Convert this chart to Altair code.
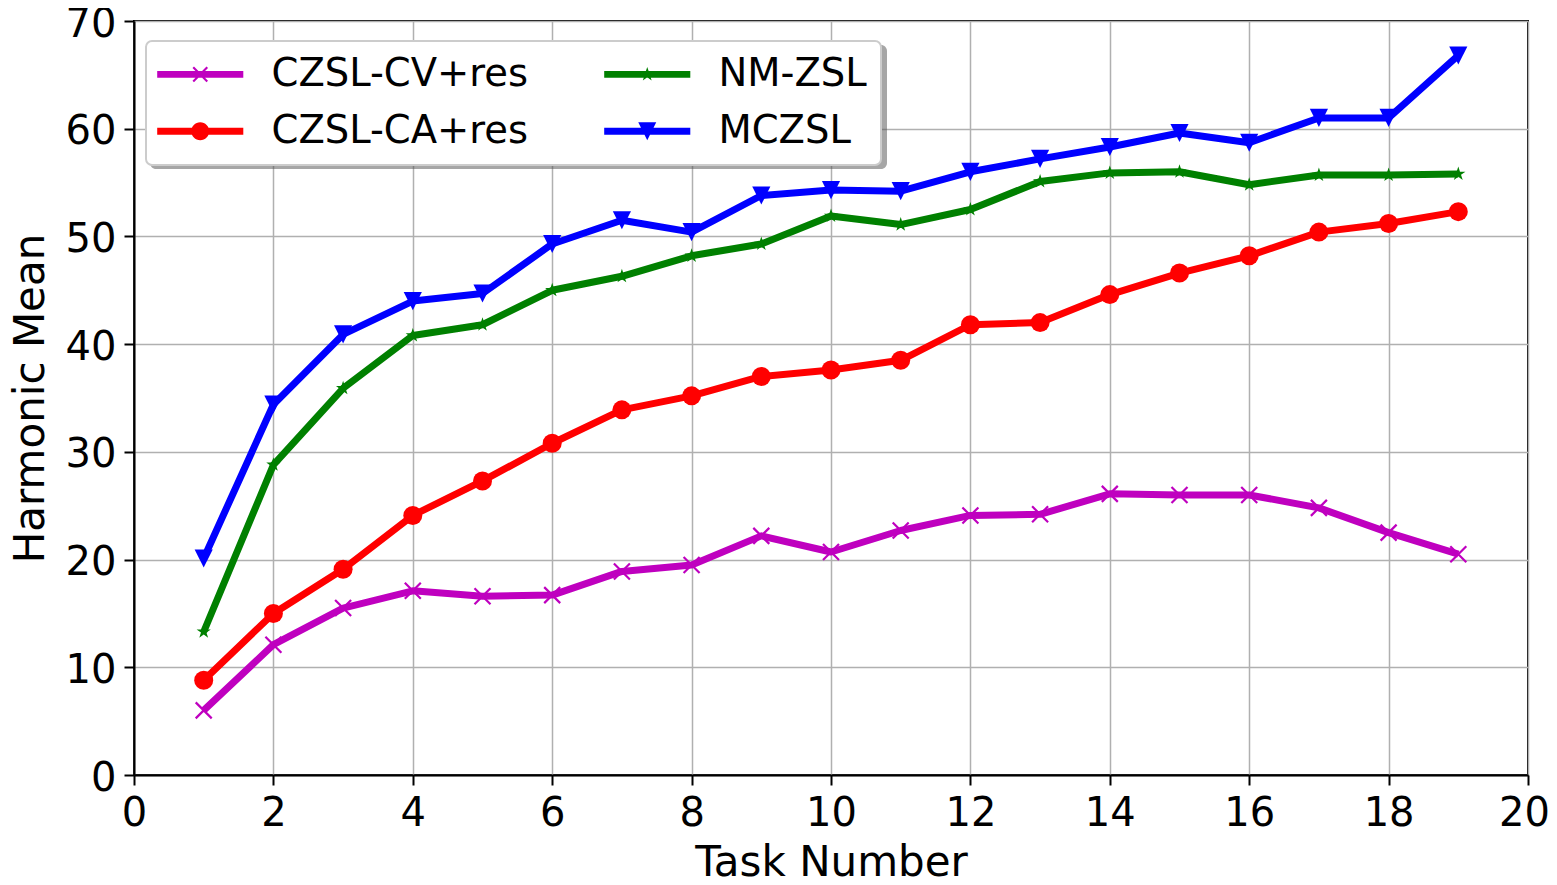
import altair as alt
import pandas as pd

tasks = list(range(1, 20))

cv_res = [6.0, 12.1, 15.5, 17.1, 16.6, 16.7, 18.9, 19.5, 22.2, 20.7,
          22.7, 24.1, 24.2, 26.1, 26.0, 26.0, 24.8, 22.5, 20.5]
ca_res = [8.8, 15.0, 19.1, 24.1, 27.3, 30.8, 33.9, 35.2, 37.0, 37.6,
          38.5, 41.8, 42.0, 44.6, 46.6, 48.2, 50.4, 51.2, 52.3]
nm_zsl = [13.3, 28.8, 35.9, 40.8, 41.8, 45.0, 46.3, 48.2, 49.3, 51.9,
          51.1, 52.5, 55.1, 55.9, 56.0, 54.8, 55.7, 55.7, 55.8]
mczsl = [20.1, 34.4, 40.9, 44.0, 44.7, 49.3, 51.5, 50.4, 53.8, 54.3,
         54.2, 56.0, 57.2, 58.3, 59.6, 58.7, 61.0, 61.0, 66.8]

series_names = ["CZSL-CV+res", "CZSL-CA+res", "NM-ZSL", "MCZSL"]
series_values = [cv_res, ca_res, nm_zsl, mczsl]
series_colors = ["#bf00bf", "#ff0000", "#008000", "#0000ff"]

FONT = "DejaVu Sans"

# marker shapes for the plotted points
X_PATH = "M-1,-1L1,1M-1,1L1,-1"
STAR_PATH = ("M0,-1L-0.225,-0.309L-0.951,-0.309L-0.363,0.118L-0.588,0.809"
             "L0,0.382L0.588,0.809L0.363,0.118L0.951,-0.309L0.225,-0.309Z")
TRI_PATH = "M-1,-1L0,1L1,-1Z"

markers = [
    dict(shape=X_PATH, filled=False, size=256, strokeWidth=2.2),
    dict(shape="circle", filled=True, size=361),
    dict(shape=STAR_PATH, filled=True, size=225),
    dict(shape=TRI_PATH, filled=True, size=330),
]

# legend symbols: line + marker combined
LINE = "M-2.87,-0.233V0.233H2.87V-0.233Z"
leg_x = (LINE + "M0.417,0.517L0.517,0.417L-0.417,-0.517L-0.517,-0.417Z"
         "M0.517,-0.417L0.417,-0.517L-0.517,0.417L-0.417,0.517Z")
leg_circle = LINE + "M0.6,0A0.6,0.6 0 1,0 -0.6,0A0.6,0.6 0 1,0 0.6,0Z"
leg_star = (LINE + "M0,-0.5L-0.112,-0.155L-0.476,-0.155L-0.182,0.059L-0.294,0.405"
            "L0,0.191L0.294,0.405L0.182,0.059L0.476,-0.155L0.112,-0.155Z")
leg_tri = LINE + "M-0.6,-0.6L0,0.6L0.6,-0.6Z"
legend_paths = [leg_x, leg_circle, leg_star, leg_tri]

rows = []
for name, vals in zip(series_names, series_values):
    for t, v in zip(tasks, vals):
        rows.append({"task": t, "hm": v, "series": name, "shadow": name + " "})
df = pd.DataFrame(rows)

x_enc = alt.X("task:Q", scale=alt.Scale(domain=[0, 20], nice=False),
              axis=alt.Axis(values=list(range(0, 21, 2)), title="Task Number",
                            format="d", titlePadding=9,
                            labelOffset={"condition": {"test": "datum.value == 20", "value": -4},
                                         "value": 0}))
y_enc = alt.Y("hm:Q", scale=alt.Scale(domain=[0, 70], nice=False),
              axis=alt.Axis(values=list(range(0, 71, 10)), title="Harmonic Mean",
                            format="d", labelOffset=3, titlePadding=13))

common_legend = dict(title=None, orient="none", columns=2,
                     symbolSize=900, symbolStrokeWidth=0, symbolOpacity=1, symbolOffset=21,
                     labelFontSize=38.5, labelFont=FONT, padding=14, rowPadding=18,
                     cornerRadius=6, labelLimit=0)

# shadow of the legend box (drawn first, below the real legend); no label text
shadow_names = [n + " " for n in series_names]
shadow_legend = alt.Legend(legendX=16, legendY=24, fillColor="rgba(77,77,77,0.5)",
                           strokeColor="transparent", labelColor="transparent",
                           labelExpr="''", labelOffset=224, columnPadding=138,
                           symbolType=leg_circle, **common_legend)
shadow_layer = alt.Chart(df).transform_filter("false").mark_point(filled=True).encode(
    x="task:Q", y="hm:Q",
    color=alt.Color("shadow:N", scale=alt.Scale(domain=shadow_names, range=["transparent"] * 4),
                    legend=shadow_legend),
)

layers = [shadow_layer]
for name, col, mk in zip(series_names, series_colors, markers):
    base = alt.Chart(df).transform_filter(alt.datum.series == name)
    line = base.mark_line(color=col, strokeWidth=7, strokeJoin="round").encode(x=x_enc, y=y_enc)
    if mk["filled"]:
        pt = base.mark_point(shape=mk["shape"], filled=True, color=col, size=mk["size"],
                             opacity=1).encode(x="task:Q", y="hm:Q")
    else:
        pt = base.mark_point(shape=mk["shape"], filled=False, color=col, size=mk["size"],
                             strokeWidth=mk["strokeWidth"], opacity=1).encode(x="task:Q", y="hm:Q")
    layers += [line, pt]

legend = alt.Legend(legendX=12, legendY=20, fillColor="white", strokeColor="#cccccc",
                    labelColor="black", labelOffset=52, columnPadding=75, **common_legend)

legend_layer = alt.Chart(df).transform_filter("false").mark_point(filled=True, opacity=1).encode(
    x="task:Q", y="hm:Q",
    fill=alt.Fill("series:N", scale=alt.Scale(domain=series_names, range=series_colors), legend=legend),
    shape=alt.Shape("series:N", scale=alt.Scale(domain=series_names, range=legend_paths), legend=legend),
)
layers.append(legend_layer)

chart = alt.layer(*layers).properties(
    width=1394, height=754,
    autosize=alt.AutoSizeParams(type="none"),
    padding={"left": 126, "top": 13, "right": 21, "bottom": 102},
).configure_view(
    stroke="black", strokeWidth=2
).configure_axis(
    labelFont=FONT, titleFont=FONT, labelFontSize=40, titleFontSize=42,
    titleFontWeight="normal", labelColor="black", titleColor="black",
    tickColor="black", tickSize=10, tickWidth=2, domainColor="black", domainWidth=2,
    gridColor="#b0b0b0", gridWidth=1.5, labelPadding=8,
    labelFlush=False, labelOverlap=False
).configure_legend(
    strokeWidth=2
)

chart.save("out.html", embed_options={"renderer": "svg", "actions": False})
